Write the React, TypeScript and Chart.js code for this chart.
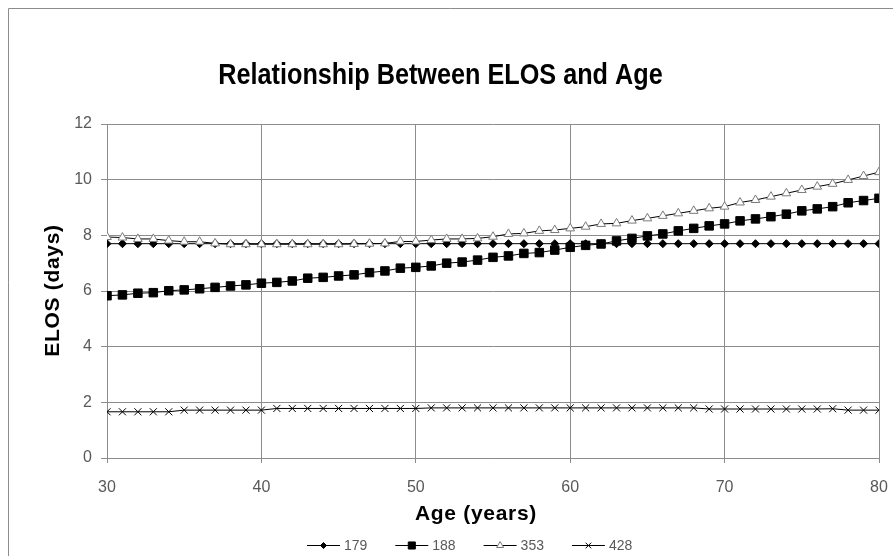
import React, { useEffect, useRef } from 'react';
import { Chart, registerables } from 'chart.js';
import { drawPoint } from 'chart.js/helpers';

Chart.register(...registerables);

// Age in years (x axis)
const ages = [
  30, 31, 32, 33, 34, 35, 36, 37, 38, 39,
  40, 41, 42, 43, 44, 45, 46, 47, 48, 49,
  50, 51, 52, 53, 54, 55, 56, 57, 58, 59,
  60, 61, 62, 63, 64, 65, 66, 67, 68, 69,
  70, 71, 72, 73, 74, 75, 76, 77, 78, 79,
  80,
];

// Expected length of stay (days) per DRG
const elos179 = [
  7.7, 7.7, 7.7, 7.7, 7.7, 7.7, 7.7, 7.7, 7.7, 7.7,
  7.7, 7.7, 7.7, 7.7, 7.7, 7.7, 7.7, 7.7, 7.7, 7.7,
  7.7, 7.7, 7.7, 7.7, 7.7, 7.7, 7.7, 7.7, 7.7, 7.7,
  7.7, 7.7, 7.7, 7.7, 7.7, 7.7, 7.7, 7.7, 7.7, 7.7,
  7.7, 7.7, 7.7, 7.7, 7.7, 7.7, 7.7, 7.7, 7.7, 7.7,
  7.7,
];

const elos188 = [
  5.83, 5.86, 5.92, 5.94, 6.01, 6.04, 6.08, 6.13, 6.18, 6.22,
  6.28, 6.31, 6.36, 6.46, 6.49, 6.54, 6.58, 6.66, 6.72, 6.82,
  6.85, 6.9, 7.0, 7.04, 7.11, 7.21, 7.26, 7.35, 7.38, 7.47,
  7.57, 7.64, 7.69, 7.8, 7.89, 7.98, 8.05, 8.16, 8.25, 8.34,
  8.41, 8.52, 8.59, 8.67, 8.76, 8.88, 8.95, 9.03, 9.17, 9.25,
  9.33,
];

const elos353 = [
  7.94, 7.92, 7.87, 7.87, 7.81, 7.77, 7.77, 7.71, 7.68, 7.68,
  7.68, 7.68, 7.68, 7.68, 7.68, 7.68, 7.69, 7.7, 7.71, 7.78,
  7.78, 7.83, 7.87, 7.87, 7.89, 7.95, 8.05, 8.07, 8.16, 8.19,
  8.25, 8.31, 8.41, 8.43, 8.53, 8.61, 8.7, 8.79, 8.88, 8.97,
  9.03, 9.18, 9.27, 9.39, 9.51, 9.63, 9.75, 9.85, 9.99, 10.13,
  10.27,
];

const elos428 = [
  1.66, 1.66, 1.66, 1.66, 1.66, 1.72, 1.72, 1.72, 1.72, 1.72,
  1.72, 1.78, 1.78, 1.78, 1.78, 1.78, 1.78, 1.78, 1.78, 1.78,
  1.78, 1.8, 1.8, 1.8, 1.8, 1.8, 1.8, 1.8, 1.8, 1.8,
  1.8, 1.8, 1.8, 1.8, 1.8, 1.8, 1.8, 1.8, 1.8, 1.76,
  1.76, 1.76, 1.76, 1.76, 1.76, 1.76, 1.76, 1.77, 1.72, 1.72,
  1.72,
];

const seriesNames = ['179', '188', '353', '428'];
const seriesValues = [elos179, elos188, elos353, elos428];

const xTicks = [30, 40, 50, 60, 70, 80];
const yTicks = [0, 2, 4, 6, 8, 10, 12];

const chartTitle = 'Relationship Between ELOS and Age';
const xTitle = 'Age (years)';
const yTitle = 'ELOS (days)';

type Marker = {
  pointStyle: string;
  radius: number;
  fill: string;
  stroke: string;
};

const markers: Marker[] = [
  { pointStyle: 'rectRot', radius: 4, fill: '#000000', stroke: '#000000' },
  { pointStyle: 'rect', radius: 6, fill: '#000000', stroke: '#000000' },
  { pointStyle: 'triangle', radius: 5, fill: '#ffffff', stroke: '#7a7a7a' },
  { pointStyle: 'crossRot', radius: 5, fill: '#000000', stroke: '#000000' },
];

const GRID = '#8c8c8c';
const TICK_TEXT = '#595959';
const FONT = '"Liberation Sans", Arial, sans-serif';

// Frame, title, axis titles and line+marker legend
const decorPlugin = {
  id: 'decor',
  beforeDraw(chart: Chart) {
    const { ctx } = chart;
    ctx.save();
    ctx.fillStyle = '#ffffff';
    ctx.fillRect(0, 0, chart.width, chart.height);
    ctx.strokeStyle = GRID;
    ctx.lineWidth = 1;
    ctx.beginPath();
    ctx.moveTo(8.5, chart.height);
    ctx.lineTo(8.5, 8.5);
    ctx.lineTo(chart.width, 8.5);
    ctx.stroke();
    ctx.restore();
  },
  afterDraw(chart: Chart) {
    const { ctx } = chart;
    ctx.save();

    // chart title (condensed bold)
    ctx.fillStyle = '#000000';
    ctx.font = `bold 29px ${FONT}`;
    ctx.textAlign = 'center';
    ctx.textBaseline = 'alphabetic';
    ctx.save();
    ctx.translate(440.5, 84);
    ctx.scale(0.87, 1);
    ctx.fillText(chartTitle, 0, 0);
    ctx.restore();

    // axis titles
    ctx.font = `bold 21px ${FONT}`;
    (ctx as any).letterSpacing = '0.7px';
    ctx.fillText(xTitle, 476, 520);
    ctx.save();
    ctx.translate(59, 290.5);
    ctx.rotate(-Math.PI / 2);
    ctx.fillText(yTitle, 0, 0);
    ctx.restore();
    (ctx as any).letterSpacing = '0px';

    // legend
    const ly = 545.5;
    seriesNames.forEach((name, i) => {
      const x0 = 307 + i * 88.3;
      const m = markers[i];
      ctx.strokeStyle = '#000000';
      ctx.lineWidth = 1;
      ctx.beginPath();
      ctx.moveTo(x0, ly);
      ctx.lineTo(x0 + 33, ly);
      ctx.stroke();
      ctx.fillStyle = m.fill;
      ctx.strokeStyle = m.stroke;
      drawPoint(ctx, { pointStyle: m.pointStyle as any, rotation: 0, radius: m.radius - 1, borderWidth: 1 }, x0 + 16.5, ly);
      ctx.fillStyle = TICK_TEXT;
      ctx.font = `14px ${FONT}`;
      ctx.textAlign = 'left';
      ctx.textBaseline = 'middle';
      ctx.fillText(name, x0 + 37, ly + 1);
    });

    ctx.restore();
  },
};

export default function App() {
  const canvasRef = useRef<HTMLCanvasElement>(null);

  useEffect(() => {
    const canvas = canvasRef.current;
    if (!canvas) return;

    const datasets = seriesNames.map((name, i) => ({
      label: name,
      data: ages.map((a, j) => ({ x: a, y: seriesValues[i][j] })),
      borderColor: '#000000',
      borderWidth: 1,
      tension: 0,
      pointStyle: markers[i].pointStyle as any,
      pointRadius: markers[i].radius,
      pointBackgroundColor: markers[i].fill,
      pointBorderColor: markers[i].stroke,
      pointBorderWidth: 1,
      order: seriesNames.length - 1 - i,
    }));

    const chart = new Chart(canvas, {
      type: 'line',
      data: { datasets },
      options: {
        animation: false,
        responsive: false,
        devicePixelRatio: 1,
        events: [],
        layout: { padding: { top: 124, right: 14, left: 0, bottom: 0 } },
        plugins: {
          legend: { display: false },
          title: { display: false },
          tooltip: { enabled: false },
        },
        scales: {
          x: {
            type: 'linear',
            min: xTicks[0],
            max: xTicks[xTicks.length - 1],
            afterFit: (s: any) => {
              s.height = 98;
              s.paddingLeft = 0;
              s.paddingRight = 0;
            },
            afterBuildTicks: (s: any) => {
              s.ticks = xTicks.map((v) => ({ value: v }));
            },
            ticks: {
              color: TICK_TEXT,
              font: { family: FONT, size: 16 },
              padding: 15,
              maxRotation: 0,
              autoSkip: false,
            },
            grid: { color: GRID, lineWidth: 1, tickLength: 5 },
            border: { color: GRID, width: 1 },
          },
          y: {
            min: yTicks[0],
            max: yTicks[yTicks.length - 1],
            afterFit: (s: any) => {
              s.width = 107;
              s.paddingTop = 0;
              s.paddingBottom = 0;
            },
            afterBuildTicks: (s: any) => {
              s.ticks = yTicks.map((v) => ({ value: v }));
            },
            ticks: {
              color: TICK_TEXT,
              font: { family: FONT, size: 16 },
              padding: 9,
              autoSkip: false,
            },
            grid: { color: GRID, lineWidth: 1, tickLength: 6 },
            border: { color: GRID, width: 1 },
          },
        },
      },
      plugins: [decorPlugin],
    });

    return () => chart.destroy();
  }, []);

  return (
    <canvas
      ref={canvasRef}
      width={893}
      height={556}
      style={{ position: 'fixed', left: 0, top: 0, width: 893, height: 556 }}
    />
  );
}
